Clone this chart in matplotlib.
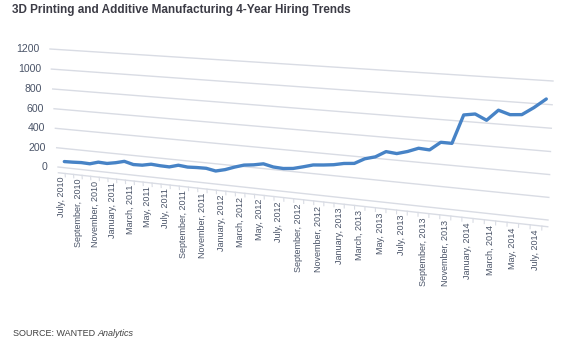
import numpy as np
import matplotlib
matplotlib.use('Agg')
import matplotlib.pyplot as plt
from matplotlib.transforms import Transform

title = '3D Printing and Additive Manufacturing 4-Year Hiring Trends'
source = 'SOURCE: WANTED '
source_italic = 'Analytics'

# monthly values, July 2010 .. July 2014 (read against the back wall grid)
hiring = [64, 67, 72, 69, 95, 91, 108, 131, 108, 111,
          130, 124, 122, 148, 139, 144, 146, 129, 152, 186,
          215, 227, 246, 225, 220, 230, 255, 282, 291, 303,
          324, 334, 386, 413, 470, 461, 489, 527, 521, 598,
          597, 856, 872, 825, 920, 889, 897, 965, 1045]
month_labels = ['July, 2010', 'September, 2010', 'November, 2010',
                'January, 2011', 'March, 2011', 'May, 2011', 'July, 2011',
                'September, 2011', 'November, 2011', 'January, 2012',
                'March, 2012', 'May, 2012', 'July, 2012', 'September, 2012',
                'November, 2012', 'January, 2013', 'March, 2013', 'May, 2013',
                'July, 2013', 'September, 2013', 'November, 2013',
                'January, 2014', 'March, 2014', 'May, 2014', 'July, 2014']
y_ticks = [0, 200, 400, 600, 800, 1000, 1200]

W, H = 569, 342
GRID = '#d9dce4'
TEXT = '#4a5468'
LINE = '#4783c6'


class Perspective(Transform):
    """Homography from (category, value) to pixel coords of the figure."""
    input_dims = output_dims = 2
    is_separable = False
    has_inverse = True

    def __init__(self, mat):
        super().__init__()
        self.mat = mat

    def transform_non_affine(self, values):
        xy = np.asarray(values, dtype=float).reshape(-1, 2)
        p = np.column_stack([xy, np.ones(len(xy))]) @ self.mat.T
        return p[:, :2] / p[:, 2:3]

    def inverted(self):
        return Perspective(np.linalg.inv(self.mat))


def homography(src, dst):
    a, b = [], []
    for (x, y), (u, v) in zip(src, dst):
        a.append([x, y, 1, 0, 0, 0, -u * x, -u * y])
        b.append(u)
        a.append([0, 0, 0, x, y, 1, -v * x, -v * y])
        b.append(v)
    h = np.linalg.solve(np.array(a), np.array(b))
    return np.append(h, 1).reshape(3, 3)


plt.rcParams['font.family'] = ['Liberation Sans', 'DejaVu Sans']
fig = plt.figure(figsize=(W / 100, H / 100), dpi=100)
ax = fig.add_axes([0, 0, 1, 1])
ax.set_xlim(0, W)
ax.set_ylim(H, 0)
ax.set_axis_off()

# back wall of the 3D chart
lo, hi = -0.8, len(hiring) - 0.5
top = y_ticks[-1]
mat = homography([(lo, 0), (lo, top), (hi, top), (hi, 0)],
                 [(58, 167), (50, 49), (553, 81), (548, 220)])
wall = Perspective(mat) + ax.transData

for v in y_ticks:
    ax.plot([lo, hi], [v, v], color=GRID, lw=1.0, transform=wall)
    ax.annotate(str(v), xy=(lo, v), xycoords=wall, xytext=(-7.5, 0),
                textcoords='offset points', ha='right', va='center',
                fontsize=7.6, color=TEXT)

# floor edge and month ticks
ax.plot([lo, hi], [-60, -60], color=GRID, lw=1.0, transform=wall)
for i in range(len(hiring)):
    ax.plot([i, i], [-60, -95], color=GRID, lw=0.8, transform=wall)
for k, lab in enumerate(month_labels):
    ax.text(2 * k - 0.5, -100, lab, transform=wall, rotation=90,
            ha='center', va='top', fontsize=6.5, color=TEXT)

ax.plot(range(len(hiring)), hiring, color=LINE, lw=2.4,
        solid_joinstyle='round', solid_capstyle='round', transform=wall)

ax.text(12, 10, title, fontsize=8.45, fontweight='bold', color='#3c3c46',
        ha='left', va='center')
src = ax.text(13, 333, source, fontsize=6.5, color='#404040',
              ha='left', va='center')
ax.annotate(source_italic, xy=(1, 0.5), xycoords=src, ha='left',
            va='center', fontsize=6.5, color='#404040', style='italic')

fig.savefig('out.png', dpi=100)
